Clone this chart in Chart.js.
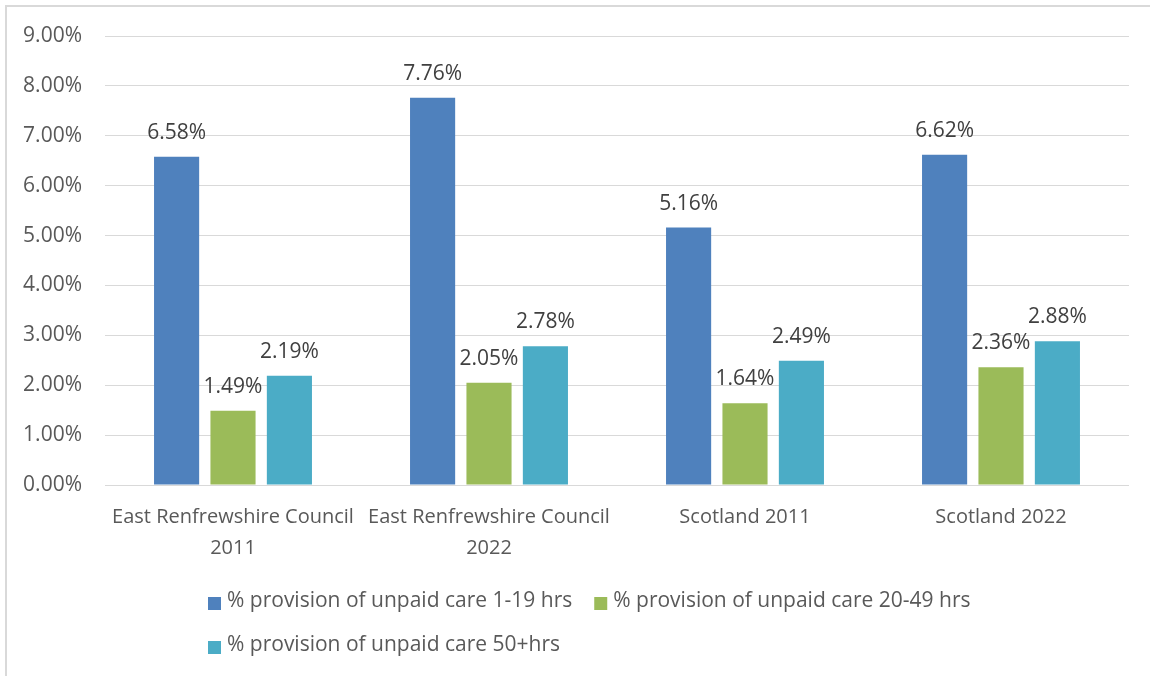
<!DOCTYPE html>
<html>
<head>
<meta charset="utf-8">
<title>Provision of unpaid care</title>
<script src="https://cdn.jsdelivr.net/npm/chart.js@4/dist/chart.umd.min.js"></script>
<style>
  html, body { margin: 0; padding: 0; background: #ffffff; overflow: hidden; }
  #wrap { position: relative; width: 1150px; height: 676px; }
  #frame { position: absolute; left: 5px; top: 5px; width: 1200px; height: 720px;
           border: 2px solid #d9d9d9; box-sizing: border-box; }
  canvas { position: absolute; left: 0; top: 0; }
</style>
</head>
<body>
<div id="wrap">
  <div id="frame"></div>
  <canvas id="chart" width="1150" height="676"></canvas>
</div>
<script>
// Areas and census years
const categories = [
  ['East Renfrewshire Council', '2011'],
  ['East Renfrewshire Council', '2022'],
  'Scotland 2011',
  'Scotland 2022'
];

// Share of population providing unpaid care, by weekly hours (%)
const care1to19 = [6.58, 7.76, 5.16, 6.62];
const care20to49 = [1.49, 2.05, 1.64, 2.36];
const care50plus = [2.19, 2.78, 2.49, 2.88];

const seriesNames = [
  '% provision of unpaid care 1-19 hrs',
  '% provision of unpaid care 20-49 hrs',
  '% provision of unpaid care 50+hrs'
];

// Value axis ticks: 0.00% .. 9.00%
const yTicks = [0, 1, 2, 3, 4, 5, 6, 7, 8, 9];

const FONT = '"Open Sans", "Noto Sans", sans-serif';
const TEXT = '#595959';

// Percentage labels written above every bar
const valueLabels = {
  id: 'valueLabels',
  afterDatasetsDraw(chart) {
    const ctx = chart.ctx;
    ctx.save();
    ctx.font = '21px ' + FONT;
    ctx.fillStyle = '#404040';
    ctx.textAlign = 'center';
    ctx.textBaseline = 'alphabetic';
    chart.data.datasets.forEach((ds, i) => {
      chart.getDatasetMeta(i).data.forEach((bar, j) => {
        ctx.fillText(ds.data[j].toFixed(2) + '%', bar.x, bar.y - 18);
      });
    });
    ctx.restore();
  }
};

// Two-row legend under the axis, rows aligned on the left
const rowLegend = {
  id: 'rowLegend',
  afterDraw(chart) {
    const ctx = chart.ctx;
    const rows = [[0, 1], [2]];
    const left = 208;
    const baselines = [chart.chartArea.bottom + 122, chart.chartArea.bottom + 166];
    ctx.save();
    ctx.font = '21px ' + FONT;
    ctx.textBaseline = 'alphabetic';
    ctx.textAlign = 'left';
    rows.forEach((row, r) => {
      let x = left;
      const y = baselines[r];
      row.forEach(i => {
        const ds = chart.data.datasets[i];
        ctx.fillStyle = ds.backgroundColor;
        ctx.fillRect(x, y - 10, 13, 13);
        ctx.fillStyle = TEXT;
        ctx.fillText(ds.label, x + 19, y);
        x += 19 + ctx.measureText(ds.label).width + 22;
      });
    });
    ctx.restore();
  }
};

new Chart(document.getElementById('chart'), {
  type: 'bar',
  data: {
    labels: categories,
    datasets: [
      { label: seriesNames[0], data: care1to19, backgroundColor: '#4f81bd' },
      { label: seriesNames[1], data: care20to49, backgroundColor: '#9bbb59' },
      { label: seriesNames[2], data: care50plus, backgroundColor: '#4bacc6' }
    ]
  },
  options: {
    responsive: false,
    animation: false,
    events: [],
    layout: { padding: { top: 36, right: 21, bottom: 111, left: 0 } },
    datasets: {
      bar: { categoryPercentage: 0.661, barPercentage: 0.8 }
    },
    plugins: {
      legend: { display: false },
      tooltip: { enabled: false },
      title: { display: false }
    },
    scales: {
      x: {
        grid: { display: false, drawTicks: false },
        border: { display: false },
        ticks: {
          autoSkip: false,
          maxRotation: 0,
          minRotation: 0,
          padding: 17,
          color: TEXT,
          font: { family: FONT, size: 20, lineHeight: 1.55 }
        },
        afterFit(scale) { scale.height = 80; }
      },
      y: {
        min: 0,
        max: 9,
        afterBuildTicks(scale) { scale.ticks = yTicks.map(v => ({ value: v })); },
        grid: { color: '#d9d9d9', lineWidth: 1, drawTicks: false },
        border: { display: false },
        ticks: {
          padding: 23,
          color: TEXT,
          font: { family: FONT, size: 21 },
          callback: v => v.toFixed(2) + '%'
        },
        afterFit(scale) { scale.width = 105; }
      }
    }
  },
  plugins: [valueLabels, rowLegend]
});
</script>
</body>
</html>
